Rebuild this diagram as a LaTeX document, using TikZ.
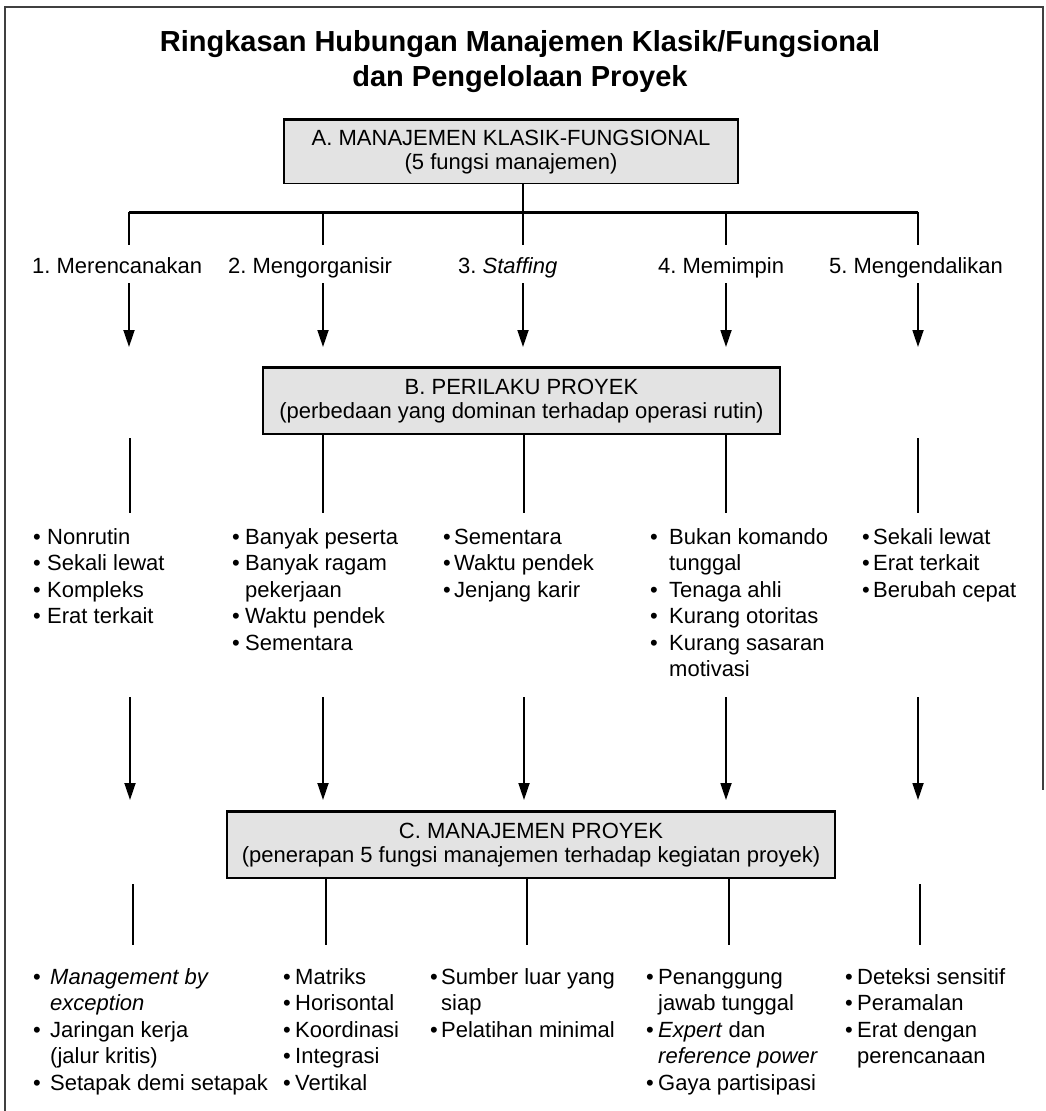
\documentclass[tikz,border=0pt]{standalone}
\usepackage{fontspec}
\setmainfont{Liberation Sans}
\usetikzlibrary{arrows.meta}
\newcommand{\bu}[1]{\makebox[#1][l]{•}}
\frenchspacing
\begin{document}
\begin{tikzpicture}[x=1pt,y=-1pt,
  txt/.style={font=\fontsize{22}{26.5}\selectfont\frenchspacing, inner sep=0pt},
  bcol/.style={txt, anchor=base west},
  boxnode/.style={draw=black, line width=1.4pt, fill=black!11, align=center,
                  font=\fontsize{22}{24.5}\selectfont\frenchspacing, inner sep=0pt},
  conn/.style={line width=1.6pt},
  bar/.style={line width=3pt},
  arr/.style={line width=1.8pt, -{Triangle[length=17pt,width=11pt]}},
  outerframe/.style={line width=2pt, black!75},
  ttl/.style={font=\fontsize{29}{35}\selectfont\bfseries, align=center, inner sep=0pt}
]
\useasboundingbox (0,0) rectangle (1046,1111);
\fill[white] (0,0) rectangle (1046,1111);
\draw[outerframe] (5,1111) -- (5,7) -- (1043,7) -- (1043,790);

% title
\node[ttl] (title) at (520,62) {Ringkasan Hubungan Manajemen Klasik/Fungsional\\dan Pengelolaan Proyek};

% box A
\node[boxnode, minimum width=454pt, minimum height=63pt] (A) at (511,152)
  {A. MANAJEMEN KLASIK-FUNGSIONAL\\(5 fungsi manajemen)};
\draw[bar] (A.north west) -- (A.north east);

\coordinate (hub) at (523,212);
\coordinate (hL) at (129,212);
\coordinate (hR) at (918,212);
\draw[conn] (A.south -| hub) -- (hub);
\draw[bar] (hL) -- (hR);

\foreach \i/\x in {1/129,2/323,3/523,4/726,5/918}{
  \coordinate (d\i) at (\x,245);
  \coordinate (s\i) at (\x,283);
  \coordinate (e\i) at (\x,347);
}
\foreach \i in {1,...,5}{
  \draw[conn] (d\i |- hub) -- (d\i);
  \draw[arr] (s\i) -- (e\i);
}

% function labels
\node[txt, anchor=base west] (f1) at (32,273) {1. Merencanakan};
\node[txt, anchor=base west] (f2) at (228,273) {2. Mengorganisir};
\node[txt, anchor=base west] (f3) at (458,273) {3. \textit{Staffing}};
\node[txt, anchor=base west] (f4) at (658,273) {4. Memimpin};
\node[txt, anchor=base west] (f5) at (829,273) {5. Mengendalikan};

% box B
\node[boxnode, minimum width=517pt, minimum height=66pt] (B) at (521.5,401)
  {B. PERILAKU PROYEK\\(perbedaan yang dominan terhadap operasi rutin)};
\draw[bar] (B.north west) -- (B.north east);

\foreach \i/\x in {1/130,2/323,3/524,4/726,5/918}{
  \coordinate (u\i) at (\x,513);
  \coordinate (p\i) at (\x,697);
  \coordinate (q\i) at (\x,800);
}
\draw[conn] (130,438) coordinate (v1) -- (u1);
\draw[conn] (B.south -| u2) -- (u2);
\draw[conn] (B.south -| u3) -- (u3);
\draw[conn] (B.south -| u4) -- (u4);
\draw[conn] (918,438) coordinate (v5) -- (u5);
\foreach \i in {1,...,5}{
  \draw[arr] (p\i) -- (q\i);
}

% B bullets
\node[bcol] (b1) at (33,544) {\begin{tabular}[t]{@{}l@{}}
\bu{14pt}Nonrutin\\ \bu{14pt}Sekali lewat\\ \bu{14pt}Kompleks\\ \bu{14pt}Erat terkait\end{tabular}};
\node[bcol] (b2) at (232,544) {\begin{tabular}[t]{@{}l@{}}
\bu{13pt}Banyak peserta\\ \bu{13pt}Banyak ragam\\ \hspace*{13pt}pekerjaan\\ \bu{13pt}Waktu pendek\\ \bu{13pt}Sementara\end{tabular}};
\node[bcol] (b3) at (443,544) {\begin{tabular}[t]{@{}l@{}}
\bu{11pt}Sementara\\ \bu{11pt}Waktu pendek\\ \bu{11pt}Jenjang karir\end{tabular}};
\node[bcol] (b4) at (650,544) {\begin{tabular}[t]{@{}l@{}}
\bu{19pt}Bukan komando\\ \hspace*{19pt}tunggal\\ \bu{19pt}Tenaga ahli\\ \bu{19pt}Kurang otoritas\\ \bu{19pt}Kurang sasaran\\ \hspace*{19pt}motivasi\end{tabular}};
\node[bcol] (b5) at (862,544) {\begin{tabular}[t]{@{}l@{}}
\bu{11pt}Sekali lewat\\ \bu{11pt}Erat terkait\\ \bu{11pt}Berubah cepat\end{tabular}};

% box C
\node[boxnode, minimum width=608pt, minimum height=66pt] (C) at (531,845)
  {C. MANAJEMEN PROYEK\\(penerapan 5 fungsi manajemen terhadap kegiatan proyek)};
\draw[bar] (C.north west) -- (C.north east);

\foreach \i/\x in {1/133,2/326,3/527,4/729,5/920}{
  \coordinate (w\i) at (\x,945);
}
\draw[conn] (133,884) coordinate (z1) -- (w1);
\draw[conn] (C.south -| w2) -- (w2);
\draw[conn] (C.south -| w3) -- (w3);
\draw[conn] (C.south -| w4) -- (w4);
\draw[conn] (920,884) coordinate (z5) -- (w5);

% C bullets
\node[bcol] (c1) at (33,984) {\begin{tabular}[t]{@{}l@{}}
\bu{17pt}\textit{Management by}\\ \hspace*{17pt}\textit{exception}\\ \bu{17pt}Jaringan kerja\\ \hspace*{17pt}(jalur kritis)\\ \bu{17pt}Setapak demi setapak\end{tabular}};
\node[bcol] (c2) at (283,984) {\begin{tabular}[t]{@{}l@{}}
\bu{12pt}Matriks\\ \bu{12pt}Horisontal\\ \bu{12pt}Koordinasi\\ \bu{12pt}Integrasi\\ \bu{12pt}Vertikal\end{tabular}};
\node[bcol] (c3) at (430,984) {\begin{tabular}[t]{@{}l@{}}
\bu{11pt}Sumber luar yang\\ \hspace*{11pt}siap\\ \bu{11pt}Pelatihan minimal\end{tabular}};
\node[bcol] (c4) at (646,984) {\begin{tabular}[t]{@{}l@{}}
\bu{12pt}Penanggung\\ \hspace*{12pt}jawab tunggal\\ \bu{12pt}\textit{Expert} dan\\ \hspace*{12pt}\textit{reference power}\\ \bu{12pt}Gaya partisipasi\end{tabular}};
\node[bcol] (c5) at (845,984) {\begin{tabular}[t]{@{}l@{}}
\bu{12pt}Deteksi sensitif\\ \bu{12pt}Peramalan\\ \bu{12pt}Erat dengan\\ \hspace*{12pt}perencanaan\end{tabular}};
\end{tikzpicture}
\end{document}
